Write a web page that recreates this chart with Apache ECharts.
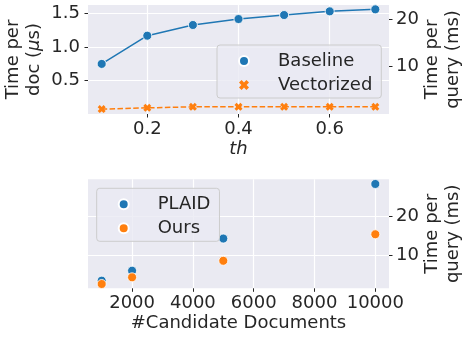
<!DOCTYPE html>
<html><head><meta charset="utf-8">
<script src="https://cdn.jsdelivr.net/npm/echarts@6/dist/echarts.min.js"></script>
<style>html,body{margin:0;padding:0;background:#fff}#c{width:462px;height:337px}</style>
</head><body><div id="c"></div>
<script>
// ---- data ----
const thValues = [0.1, 0.2, 0.3, 0.4, 0.5, 0.6, 0.7];
const baseline = [0.749, 1.171, 1.331, 1.42, 1.48, 1.535, 1.565];
const vectorized = [0.073, 0.092, 0.107, 0.107, 0.107, 0.107, 0.107];
const thTicks = [0.2, 0.4, 0.6];
const docTicks = [0.5, 1.0, 1.5];
const queryTicksTop = [10, 20];

const candidates = [1000, 2000, 5000, 10000];
const plaid = [3.6, 6.15, 14.4, 28.4];
const ours = [2.74, 4.46, 8.7, 15.5];
const candTicks = [2000, 4000, 6000, 8000, 10000];
const queryTicksBottom = [10, 20];

// ---- styling ----
const TXT = '#262626';
const FONT = 'DejaVu Sans';
const FS = 18;
const BLUE = '#1f77b4';
const ORANGE = '#ff7f0e';
const XPATH = 'path://M0,2.6 L2.6,0 L5,2.4 L7.4,0 L10,2.6 L7.6,5 L10,7.4 L7.4,10 L5,7.6 L2.6,10 L0,7.4 L2.4,5 Z';

function tickAxis(extra) {
  const base = {
    axisLine: {show: false},
    axisTick: {show: true, length: 3.5, lineStyle: {color: TXT, width: 1}},
    splitLine: {show: true, lineStyle: {color: '#ffffff', width: 1.2}},
    axisLabel: {color: TXT, fontFamily: FONT, fontSize: FS},
    nameTextStyle: {color: TXT, fontFamily: FONT, fontSize: FS, lineHeight: 21},
    nameLocation: 'middle',
    nameMoveOverlap: false
  };
  const out = Object.assign({}, base, extra);
  out.axisLabel = Object.assign({}, base.axisLabel, extra.axisLabel || {});
  out.axisTick = Object.assign({}, base.axisTick, extra.axisTick || {});
  out.nameTextStyle = Object.assign({}, base.nameTextStyle, extra.nameTextStyle || {});
  if (extra.splitLine) out.splitLine = extra.splitLine;
  return out;
}

const legendCommon = {
  orient: 'vertical',
  itemWidth: 10, itemHeight: 10, itemGap: 6,
  padding: [7, 9, 4, 21],
  backgroundColor: 'rgba(234,234,242,0.8)',
  borderColor: '#cccccc', borderWidth: 1, borderRadius: 3,
  textStyle: {color: TXT, fontFamily: FONT, fontSize: FS, padding: [0, 0, 0, 24]}
};

const chart = echarts.init(document.getElementById('c'), null, {renderer: 'canvas'});
chart.setOption({
  animation: false,
  backgroundColor: '#ffffff',
  grid: [
    {left: 88, top: 5, width: 301, height: 109, show: true, backgroundColor: '#eaeaf2', borderWidth: 0, containLabel: false, outerBoundsMode: 'none'},
    {left: 88, top: 179.3, width: 301, height: 109, show: true, backgroundColor: '#eaeaf2', borderWidth: 0, containLabel: false, outerBoundsMode: 'none'}
  ],
  xAxis: [
    tickAxis({type: 'value', gridIndex: 0, min: 0.07, max: 0.73,
      axisLabel: {customValues: thTicks, formatter: v => v.toFixed(1), margin: 6},
      axisTick: {customValues: thTicks},
      name: 'th', nameGap: 25, nameTextStyle: {fontStyle: 'italic'}}),
    tickAxis({type: 'value', gridIndex: 1, min: 550, max: 10450,
      axisLabel: {customValues: candTicks, formatter: v => String(v), margin: 6},
      axisTick: {customValues: candTicks},
      name: '#Candidate Documents', nameGap: 25})
  ],
  yAxis: [
    tickAxis({type: 'value', gridIndex: 0, position: 'left', min: 0, max: 1.63,
      axisLabel: {customValues: docTicks, formatter: v => v.toFixed(1), margin: 8},
      axisTick: {customValues: docTicks},
      name: 'Time per\ndoc ({mu|μ}s)', nameGap: 43, nameRotate: 90,
      nameTextStyle: {rich: {mu: {fontStyle: 'italic', fontFamily: FONT, fontSize: FS, color: TXT}}}}),
    tickAxis({type: 'value', gridIndex: 0, position: 'right', min: 0.08, max: 22.94,
      axisLabel: {customValues: queryTicksTop, formatter: v => String(v), margin: 7},
      axisTick: {customValues: queryTicksTop},
      splitLine: {show: false},
      name: 'Time per\nquery (ms)', nameGap: 33, nameRotate: 90}),
    tickAxis({type: 'value', gridIndex: 1, position: 'right', min: 1.64, max: 29.6,
      axisLabel: {customValues: queryTicksBottom, formatter: v => String(v), margin: 7},
      axisTick: {customValues: queryTicksBottom},
      name: 'Time per\nquery (ms)', nameGap: 33, nameRotate: 90})
  ],
  legend: [
    Object.assign({}, legendCommon, {left: 217, top: 45,
      data: [{name: 'Baseline', icon: 'circle'}, {name: 'Vectorized', icon: XPATH}]}),
    Object.assign({}, legendCommon, {left: 96.7, top: 188.3,
      data: [{name: 'PLAID', icon: 'circle'}, {name: 'Ours', icon: 'circle'}]})
  ],
  series: [
    {name: 'Baseline', type: 'line', xAxisIndex: 0, yAxisIndex: 0,
      data: thValues.map((x, i) => [x, baseline[i]]),
      symbol: 'circle', symbolSize: 9, showSymbol: true,
      itemStyle: {color: BLUE, borderColor: '#ffffff', borderWidth: 0.8},
      lineStyle: {color: BLUE, width: 1.5}},
    {name: 'Vectorized', type: 'line', xAxisIndex: 0, yAxisIndex: 0,
      data: thValues.map((x, i) => [x, vectorized[i]]),
      symbol: XPATH, symbolSize: 8, showSymbol: true,
      itemStyle: {color: ORANGE, borderWidth: 0},
      lineStyle: {color: ORANGE, width: 1.5, type: [5.5, 2.4]}},
    {name: 'PLAID', type: 'scatter', xAxisIndex: 1, yAxisIndex: 2,
      data: candidates.map((x, i) => [x, plaid[i]]),
      symbol: 'circle', symbolSize: 9,
      itemStyle: {color: BLUE, borderColor: '#ffffff', borderWidth: 0.8, opacity: 1}},
    {name: 'Ours', type: 'scatter', xAxisIndex: 1, yAxisIndex: 2,
      data: candidates.map((x, i) => [x, ours[i]]),
      symbol: 'circle', symbolSize: 9,
      itemStyle: {color: ORANGE, borderColor: '#ffffff', borderWidth: 0.8, opacity: 1}}
  ]
});
</script>
</body></html>
